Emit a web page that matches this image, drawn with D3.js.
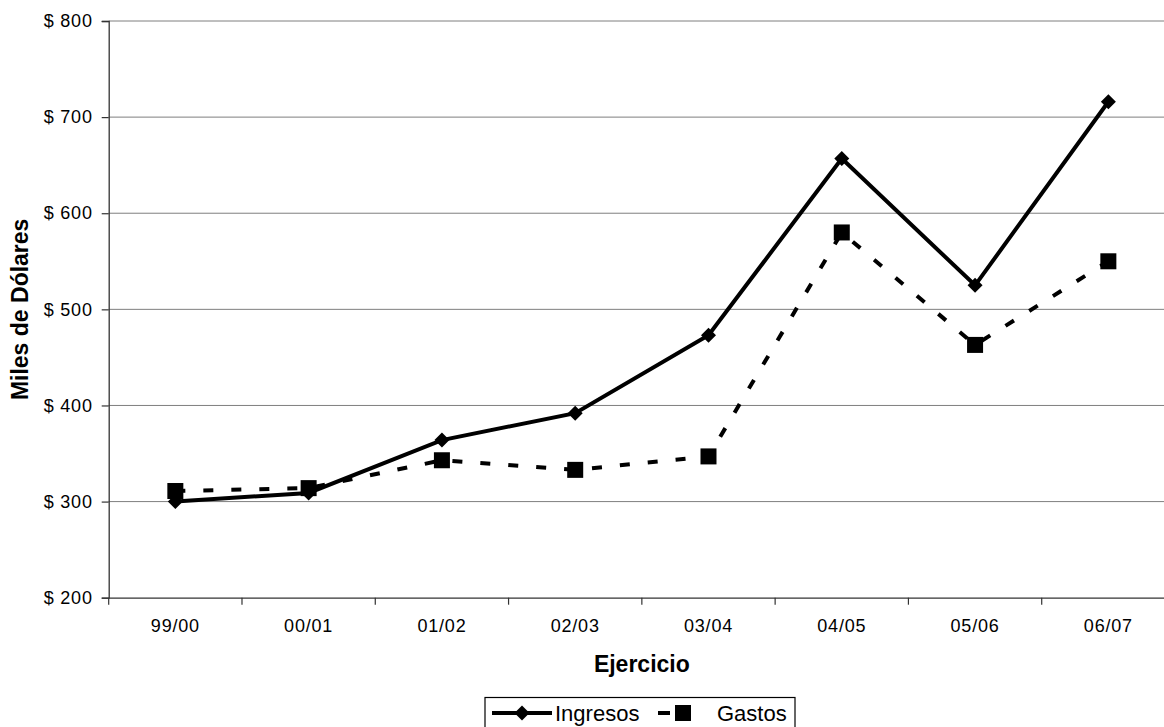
<!DOCTYPE html>
<html>
<head>
<meta charset="utf-8">
<script src="https://cdn.jsdelivr.net/npm/d3@7"></script>
<style>
  html, body { margin: 0; padding: 0; background: #fff; }
  svg { display: block; font-family: "Liberation Sans", Arial, sans-serif; }
</style>
</head>
<body>
<svg id="chart" width="1164" height="727"></svg>
<script>
// Ejercicios fiscales
const categories = ["99/00", "00/01", "01/02", "02/03", "03/04", "04/05", "05/06", "06/07"];
// Miles de dólares
const ingresos = [300, 309, 364, 392, 473, 657, 525, 716];
const gastos   = [311, 314, 343, 333, 347, 580, 463, 550];
const yTicks   = [200, 300, 400, 500, 600, 700, 800];

const svg = d3.select("#chart");
const plot = { left: 108.7, right: 1175, top: 21, bottom: 597.7 };

const x = d3.scaleBand().domain(categories).range([plot.left, plot.right]);
const y = d3.scaleLinear().domain([200, 800]).range([plot.bottom, plot.top]);
const cx = d => x(d) + x.bandwidth() / 2;

// horizontal gridlines
svg.append("g").selectAll("line").data(yTicks.filter(t => t > 200)).join("line")
  .attr("x1", plot.left).attr("x2", plot.right)
  .attr("y1", d => y(d)).attr("y2", d => y(d))
  .attr("stroke", "#7f7f7f").attr("stroke-width", 1);

// y axis
const yAxis = svg.append("g").attr("transform", `translate(${plot.left},0)`)
  .call(d3.axisLeft(y).tickValues(yTicks).tickSize(7).tickPadding(9).tickFormat(d => "$ " + d));
yAxis.select(".domain").attr("stroke", "#333").attr("stroke-width", 1.3);
yAxis.selectAll(".tick line").attr("stroke", "#333").attr("stroke-width", 1.2);
yAxis.selectAll(".tick text").attr("font-size", 18).attr("letter-spacing", 0.8).attr("fill", "#000")
  .attr("font-family", "Liberation Sans, Arial, sans-serif");

// x axis with ticks between categories
const xAxis = svg.append("g").attr("transform", `translate(0,${plot.bottom})`)
  .call(d3.axisBottom(x).tickSize(0).tickPadding(22));
xAxis.select(".domain").attr("stroke", "#333").attr("stroke-width", 1.3);
xAxis.selectAll(".tick text").attr("font-size", 18).attr("letter-spacing", 0.8).attr("fill", "#000")
  .attr("font-family", "Liberation Sans, Arial, sans-serif");
const bounds = categories.map(c => x(c)).concat([plot.right]);
svg.append("g").selectAll("line").data(bounds).join("line")
  .attr("x1", d => d).attr("x2", d => d)
  .attr("y1", plot.bottom).attr("y2", plot.bottom + 7)
  .attr("stroke", "#333").attr("stroke-width", 1.2);

// axis titles
svg.append("text")
  .attr("x", (plot.left + plot.right) / 2).attr("y", 671.5)
  .attr("text-anchor", "middle").attr("font-weight", "bold").attr("font-size", 23)
  .text("Ejercicio");
svg.append("text")
  .attr("transform", `translate(28,${(plot.top + plot.bottom) / 2}) rotate(-90)`)
  .attr("text-anchor", "middle").attr("font-weight", "bold").attr("font-size", 23)
  .text("Miles de Dólares");

const line = d3.line().x((d, i) => cx(categories[i])).y(d => y(d));

// Gastos: dashed line with square markers
svg.append("path").datum(gastos)
  .attr("d", line).attr("fill", "none").attr("stroke", "#000")
  .attr("stroke-width", 4).attr("stroke-dasharray", "10,18");
svg.append("g").selectAll("rect").data(gastos).join("rect")
  .attr("x", (d, i) => cx(categories[i]) - 8).attr("y", d => y(d) - 8)
  .attr("width", 16).attr("height", 16).attr("fill", "#000");

// Ingresos: solid line with diamond markers
svg.append("path").datum(ingresos)
  .attr("d", line).attr("fill", "none").attr("stroke", "#000")
  .attr("stroke-width", 4).attr("stroke-linejoin", "miter");
const diamond = "M0,-7.5L7.5,0L0,7.5L-7.5,0Z";
svg.append("g").selectAll("path").data(ingresos).join("path")
  .attr("d", diamond)
  .attr("transform", (d, i) => `translate(${cx(categories[i])},${y(d)})`)
  .attr("fill", "#000");

// legend
const lg = svg.append("g");
const ly = 713;
lg.append("rect").attr("x", 485).attr("y", 697.5).attr("width", 310).attr("height", 40)
  .attr("fill", "#fff").attr("stroke", "#000").attr("stroke-width", 1.2);
lg.append("line").attr("x1", 492).attr("x2", 552).attr("y1", ly).attr("y2", ly)
  .attr("stroke", "#000").attr("stroke-width", 4);
lg.append("path").attr("d", diamond).attr("transform", `translate(522,${ly})`).attr("fill", "#000");
lg.append("text").attr("x", 555).attr("y", ly + 8).attr("font-size", 22).text("Ingresos");
lg.append("line").attr("x1", 658).attr("x2", 670).attr("y1", ly).attr("y2", ly)
  .attr("stroke", "#000").attr("stroke-width", 4);
lg.append("rect").attr("x", 675).attr("y", ly - 8).attr("width", 16).attr("height", 16).attr("fill", "#000");
lg.append("text").attr("x", 717).attr("y", ly + 8).attr("font-size", 22).text("Gastos");
</script>
</body>
</html>
